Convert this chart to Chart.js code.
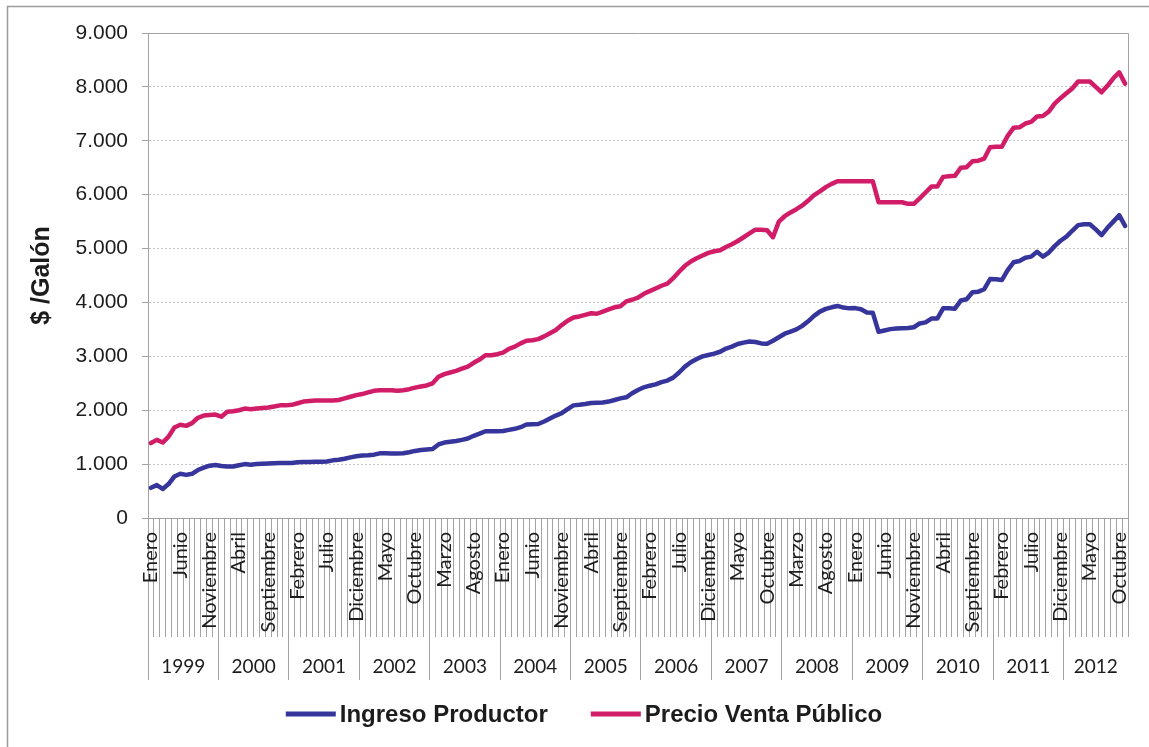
<!DOCTYPE html>
<html lang="es">
<head>
<meta charset="utf-8">
<title>Ingreso Productor y Precio Venta Público</title>
<script src="https://cdn.jsdelivr.net/npm/chart.js@4.4.1/dist/chart.umd.min.js"></script>
<style>
  html, body { margin: 0; padding: 0; background: #ffffff; }
  #wrap { width: 1149px; height: 747px; }
</style>
</head>
<body>
<div id="wrap"><canvas id="grafico" width="1149" height="747"></canvas></div>
<script>
// Nombres de los meses y años del eje de categorías
const MESES = ['Enero', 'Febrero', 'Marzo', 'Abril', 'Mayo', 'Junio', 'Julio',
  'Agosto', 'Septiembre', 'Octubre', 'Noviembre', 'Diciembre'];
const ANIOS = [1999, 2000, 2001, 2002, 2003, 2004, 2005, 2006, 2007, 2008, 2009, 2010, 2011, 2012];
const MESES_ULTIMO_ANIO = 11; // la serie termina en noviembre de 2012

// $ por galón, mensual desde enero de 1999
const ingresoProductor = [
  560, 610, 540, 630, 770, 820, 800, 820, 890, 935, 970, 985,
  965, 955, 955, 980, 1000, 990, 1000, 1005, 1010, 1015, 1020, 1020,
  1020, 1035, 1040, 1040, 1045, 1045, 1050, 1070, 1080, 1100, 1125, 1145,
  1160, 1165, 1175, 1200, 1200, 1198, 1198, 1200, 1220, 1245, 1260, 1270,
  1280, 1365, 1400, 1415, 1430, 1450, 1475, 1525, 1565, 1610, 1610, 1610,
  1615, 1635, 1655, 1685, 1735, 1740, 1745, 1790, 1845, 1900, 1945, 2020,
  2090, 2100, 2115, 2135, 2140, 2145, 2160, 2190, 2220, 2240, 2315, 2375,
  2425, 2455, 2480, 2520, 2550, 2605, 2700, 2810, 2890, 2950, 3000, 3025,
  3050, 3085, 3145, 3180, 3230, 3255, 3275, 3265, 3240, 3235, 3290, 3355,
  3420, 3460, 3500, 3565, 3650, 3750, 3830, 3880, 3910, 3935, 3905, 3890,
  3895, 3875, 3815, 3810, 3455, 3480, 3505, 3515, 3520, 3525, 3540, 3610,
  3630, 3700, 3700, 3890, 3890, 3885, 4035, 4060, 4190, 4200, 4245, 4435,
  4430, 4415, 4600, 4745, 4770, 4830, 4850, 4940, 4850, 4925, 5045, 5145,
  5220, 5330, 5435, 5450, 5450, 5355, 5250, 5385, 5500, 5620, 5420
];
const precioVentaPublico = [
  1390, 1450, 1400, 1510, 1680, 1730, 1710, 1760, 1860, 1900, 1910, 1920,
  1880, 1970, 1980, 2000, 2030, 2020, 2030, 2040, 2050, 2070, 2090, 2090,
  2100, 2130, 2160, 2170, 2180, 2180, 2180, 2180, 2190, 2220, 2250, 2280,
  2300, 2330, 2360, 2370, 2370, 2370, 2360, 2370, 2390, 2420, 2440, 2460,
  2500, 2620, 2670, 2700, 2730, 2770, 2810, 2880, 2940, 3020, 3020, 3040,
  3070, 3140, 3180, 3240, 3290, 3300, 3320, 3370, 3430, 3490, 3580, 3660,
  3720, 3740, 3770, 3800, 3790, 3830, 3870, 3910, 3930, 4020, 4050, 4090,
  4160, 4210, 4260, 4310, 4350, 4450, 4570, 4680, 4760, 4820, 4870, 4920,
  4950, 4970, 5030, 5080, 5140, 5210, 5280, 5350, 5350, 5340, 5210, 5500,
  5600, 5670, 5730, 5800, 5890, 5990, 6060, 6140, 6200, 6250, 6250, 6250,
  6250, 6250, 6250, 6250, 5860, 5860, 5860, 5860, 5860, 5830, 5830, 5930,
  6040, 6150, 6150, 6330, 6340, 6350, 6500, 6510, 6620, 6630, 6670, 6880,
  6890, 6890, 7090, 7240, 7250, 7320, 7350, 7450, 7460, 7540, 7690, 7790,
  7880, 7970, 8100, 8100, 8100, 8000, 7900, 8020, 8160, 8270, 8060
];

// Eje de valores
const Y_MIN = 0, Y_MAX = 9000, Y_PASO = 1000;
const CADA_N_MESES = 5; // se rotula un mes de cada cinco

// Categorías mes/año
const mesesPorAnio = ANIOS.map((a, k) => k === ANIOS.length - 1 ? MESES_ULTIMO_ANIO : 12);
const categorias = [];
ANIOS.forEach((anio, k) => {
  for (let m = 0; m < mesesPorAnio[k]; m++) categorias.push({ mes: MESES[m], anio });
});

const fmtMiles = v => String(v).replace(/\B(?=(\d{3})+(?!\d))/g, '.');

const GRIS_EJE = '#a3a3a3';
const GRIS_GRILLA = '#c6c6c6';
const TEXTO = '#1c1c1c';

// Marco exterior y fondo blanco
const marcoGrafico = {
  id: 'marcoGrafico',
  beforeDraw(chart) {
    const { ctx, width, height } = chart;
    ctx.save();
    ctx.fillStyle = '#ffffff';
    ctx.fillRect(0, 0, width, height);
    ctx.strokeStyle = '#9c9c9c';
    ctx.lineWidth = 1.5;
    ctx.strokeRect(7.5, 6.5, width + 20, height + 20);
    ctx.restore();
  }
};

// Borde superior y derecho del área de trazado
const bordeArea = {
  id: 'bordeArea',
  afterDatasetsDraw(chart) {
    const { ctx, chartArea: a } = chart;
    ctx.save();
    ctx.strokeStyle = GRIS_EJE;
    ctx.lineWidth = 1;
    ctx.beginPath();
    ctx.moveTo(Math.round(a.left) + 0.5, Math.round(a.top) + 0.5);
    ctx.lineTo(Math.round(a.right) + 0.5, Math.round(a.top) + 0.5);
    ctx.lineTo(Math.round(a.right) + 0.5, Math.round(a.bottom));
    ctx.stroke();
    ctx.restore();
  }
};

// Leyenda en una fila bajo los ejes
const LEYENDA = { centroX: 584, y: 714, largoLinea: 50, grosor: 5, sepTexto: 4, sepItems: 43,
  fuente: 'bold 24px "Liberation Sans", Arial, sans-serif' };
const leyendaFila = {
  id: 'leyendaFila',
  afterDraw(chart) {
    const ctx = chart.ctx;
    ctx.save();
    ctx.font = LEYENDA.fuente;
    const items = chart.data.datasets.map(ds => ({
      texto: ds.label, color: ds.borderColor, ancho: ctx.measureText(ds.label).width
    }));
    const total = items.reduce((s, it) => s + LEYENDA.largoLinea + LEYENDA.sepTexto + it.ancho, 0)
      + LEYENDA.sepItems * (items.length - 1);
    let x = LEYENDA.centroX - total / 2;
    items.forEach(it => {
      ctx.strokeStyle = it.color;
      ctx.lineWidth = LEYENDA.grosor;
      ctx.lineCap = 'butt';
      ctx.beginPath();
      ctx.moveTo(x, LEYENDA.y);
      ctx.lineTo(x + LEYENDA.largoLinea, LEYENDA.y);
      ctx.stroke();
      x += LEYENDA.largoLinea + LEYENDA.sepTexto;
      ctx.fillStyle = TEXTO;
      ctx.textBaseline = 'middle';
      ctx.textAlign = 'left';
      ctx.fillText(it.texto, x, LEYENDA.y + 1);
      x += it.ancho + LEYENDA.sepItems;
    });
    ctx.restore();
  }
};

function crearGrafico() {
  new Chart(document.getElementById('grafico'), {
    type: 'line',
    data: {
      labels: categorias.map(c => c.mes + ' ' + c.anio),
      datasets: [
        {
          label: 'Ingreso Productor',
          data: ingresoProductor,
          borderColor: '#35359b',
          backgroundColor: '#35359b',
          borderWidth: 4.5,
          pointRadius: 0,
          tension: 0,
          borderJoinStyle: 'round',
          borderCapStyle: 'round'
        },
        {
          label: 'Precio Venta Público',
          data: precioVentaPublico,
          borderColor: '#d11d68',
          backgroundColor: '#d11d68',
          borderWidth: 4.5,
          pointRadius: 0,
          tension: 0,
          borderJoinStyle: 'round',
          borderCapStyle: 'round'
        }
      ]
    },
    options: {
      responsive: false,
      animation: false,
      devicePixelRatio: 1,
      layout: { padding: { left: 0, right: 21, top: 33, bottom: 67 } },
      plugins: {
        legend: { display: false },
        tooltip: { enabled: false },
        title: { display: false }
      },
      scales: {
        x: {
          type: 'category',
          position: 'bottom',
          weight: 0,
          offset: true,
          grid: {
            offset: true,
            drawOnChartArea: false,
            drawTicks: true,
            tickLength: 119,
            color: GRIS_EJE,
            tickColor: GRIS_EJE,
            tickWidth: 1
          },
          border: { display: true, color: GRIS_EJE, width: 1 },
          ticks: {
            autoSkip: false,
            minRotation: 90,
            maxRotation: 90,
            padding: -105,
            color: TEXTO,
            font: { family: 'Lato', size: 20 },
            callback: (v, i) => (i % CADA_N_MESES === 0 ? categorias[i].mes : '')
          },
          afterFit: s => { s.height = 119; }
        },
        anios: {
          type: 'linear',
          position: 'bottom',
          weight: 1,
          min: -0.5,
          max: categorias.length - 0.5,
          afterBuildTicks: s => {
            const t = [];
            let inicio = 0;
            ANIOS.forEach((anio, k) => {
              const n = mesesPorAnio[k];
              t.push({ value: inicio - 0.5, limite: true });
              t.push({ value: inicio + (n - 1) / 2, anio: String(anio) });
              inicio += n;
            });
            s.ticks = t;
          },
          grid: {
            drawOnChartArea: false,
            drawTicks: true,
            tickLength: 43,
            color: c => (c.tick && c.tick.limite ? GRIS_EJE : 'rgba(0,0,0,0)'),
            tickColor: c => (c.tick && c.tick.limite ? GRIS_EJE : 'rgba(0,0,0,0)'),
            tickWidth: 1
          },
          border: { display: false },
          ticks: {
            autoSkip: false,
            maxRotation: 0,
            minRotation: 0,
            padding: -25,
            color: TEXTO,
            font: { family: 'Lato', size: 19 },
            callback: (v, i, ticks) => ticks[i].anio || ''
          },
          afterFit: s => { s.height = 43; }
        },
        y: {
          min: Y_MIN,
          max: Y_MAX,
          ticks: {
            stepSize: Y_PASO,
            padding: 14,
            color: TEXTO,
            font: { family: 'Liberation Sans', size: 21 },
            callback: v => fmtMiles(v)
          },
          grid: {
            color: c => (c.tick && (c.tick.value === Y_MIN || c.tick.value === Y_MAX) ? 'rgba(0,0,0,0)' : GRIS_GRILLA),
            tickColor: GRIS_EJE,
            tickLength: 6,
            lineWidth: 1,
            tickBorderDash: []
          },
          border: { display: true, color: GRIS_EJE, width: 1, dash: [2, 2] },
          title: {
            display: true,
            text: '$ /Galón',
            color: TEXTO,
            font: { family: 'Liberation Sans', size: 25, weight: 'bold' },
            padding: { top: 27, bottom: 0 }
          },
          afterFit: s => { s.width = 148; }
        }
      }
    },
    plugins: [marcoGrafico, bordeArea, leyendaFila]
  });
}

const cargas = ['20px Lato', '19px Lato', '21px "Liberation Sans"', 'bold 24px "Liberation Sans"']
  .map(f => (document.fonts && document.fonts.load ? document.fonts.load(f) : Promise.resolve()));
Promise.all(cargas).then(crearGrafico, crearGrafico);
</script>
</body>
</html>
